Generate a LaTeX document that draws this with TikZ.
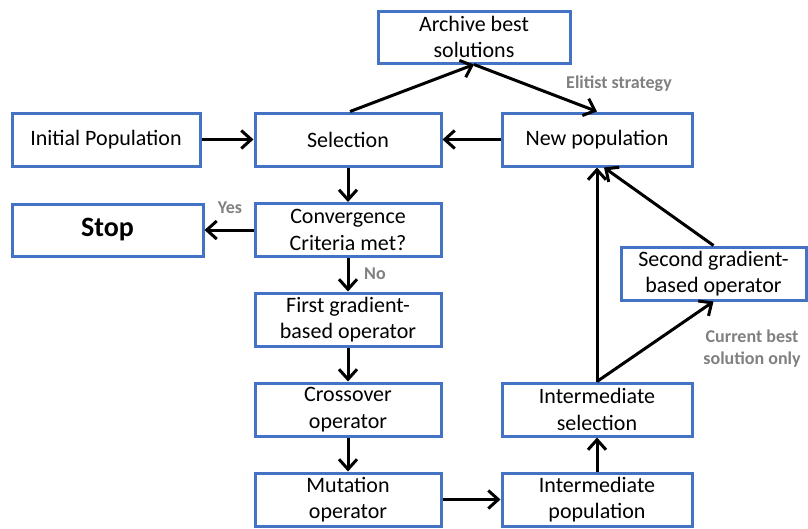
\documentclass[tikz,border=0pt]{standalone}
\usepackage{fontspec}
\setmainfont{Carlito}
\usepackage{tikz}
\usetikzlibrary{arrows.meta}
\tikzstyle{flowChart} = [x = 1pt, y = -1pt]
\definecolor{boxColor}{RGB}{68,114,196}
\definecolor{noteColor}{RGB}{128,128,128}
\tikzstyle{boxStyle} = [draw=boxColor, line width=3pt, fill=white, align=center, inner sep=1pt, minimum height=53pt, font=\fontsize{22}{26.5}\selectfont]
\tikzstyle{flowArrow} = [draw=black, line width=3pt, -{Straight Barb[length=10pt, width=18pt]}]
\tikzstyle{noteText} = [text=noteColor, font=\fontsize{18}{22}\bfseries\selectfont, align=center, inner sep=0pt]

\begin{document}
\begin{tikzpicture}[flowChart]
        \useasboundingbox (0,0) rectangle (808,528);

        % boxes
        \node [boxStyle, minimum width=192pt, minimum height=52pt] (archive) at (474,37) {Archive best\\solutions};
        \node [boxStyle, minimum width=188pt] (initPop) at (106,139.5) {Initial Population};
        \node [boxStyle, minimum width=186pt] (selection) at (348,139.5) {Selection};
        \node [boxStyle, minimum width=190pt] (newPop) at (597,139.5) {New population};
        \node [boxStyle, minimum width=191pt, minimum height=52pt, font=\fontsize{28}{32}\bfseries\selectfont] (stop) at (107.5,230) {Stop};
        \node [boxStyle, minimum width=186pt] (convergence) at (348,230) {Convergence\\Criteria met?};
        \node [boxStyle, minimum width=186pt] (firstGrad) at (348,319.5) {First gradient-\\based operator};
        \node [boxStyle, minimum width=186pt] (crossover) at (348,409.5) {Crossover\\operator};
        \node [boxStyle, minimum width=186pt] (mutation) at (348,499.5) {Mutation\\operator};
        \node [boxStyle, minimum width=190pt] (intPop) at (597,499.5) {Intermediate\\population};
        \node [boxStyle, minimum width=190pt] (intSel) at (597,409.5) {Intermediate\\selection};
        \node [boxStyle, minimum width=185pt] (secondGrad) at (713.5,273.5) {Second gradient-\\based operator};

        % notes
        \node [noteText] (elitist) at (619,84) {Elitist strategy};
        \node [noteText] (yes) at (230,208) {Yes};
        \node [noteText] (no) at (375,274) {No};
        \node [noteText] (bestOnly) at (752,349) {Current best\\solution only};

        % arrows
        \draw [flowArrow] (initPop) -- (selection);
        \draw [flowArrow] (newPop) -- (selection);
        \draw [flowArrow] ([xshift=2pt]selection.north) -- (archive.south);
        \draw [flowArrow] (archive.south) -- (newPop.north);
        \draw [flowArrow] (selection) -- (convergence);
        \draw [flowArrow] (convergence) -- (stop);
        \draw [flowArrow] (convergence) -- (firstGrad);
        \draw [flowArrow] (firstGrad) -- (crossover);
        \draw [flowArrow] (crossover) -- (mutation);
        \draw [flowArrow] (mutation) -- (intPop);
        \draw [flowArrow] (intPop) -- (intSel);
        \draw [flowArrow] (intSel.north) -- (newPop.south);
        \draw [flowArrow] (intSel.north) -- (secondGrad.south);
        \draw [flowArrow] (secondGrad.north) -- ([xshift=7pt]newPop.south);
      \end{tikzpicture}
\end{document}
